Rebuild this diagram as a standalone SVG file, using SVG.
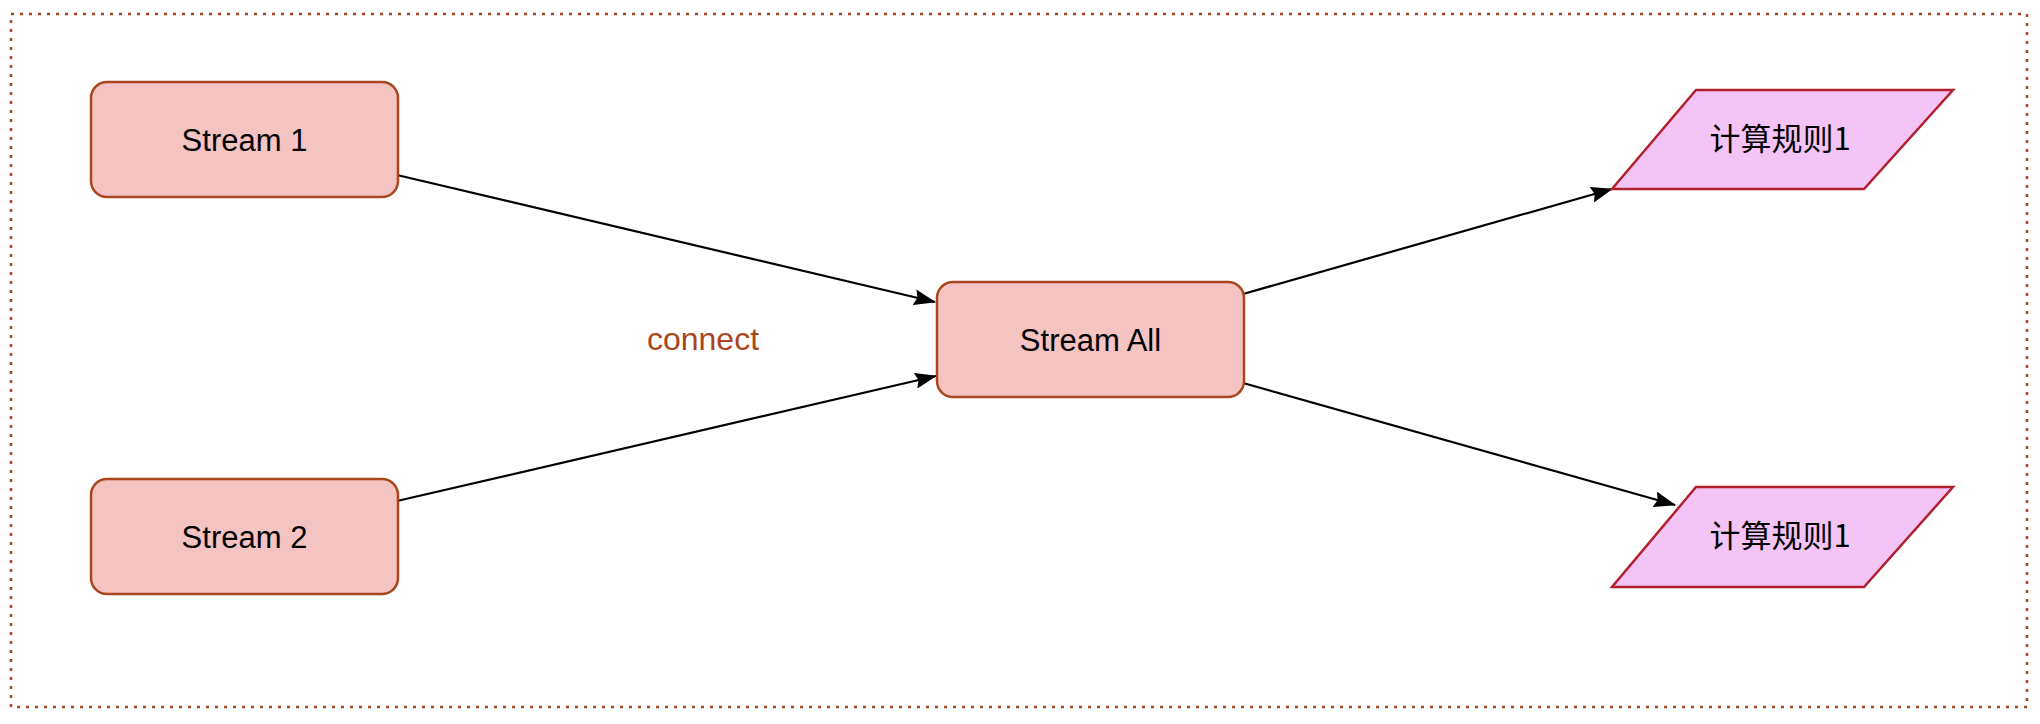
<svg xmlns="http://www.w3.org/2000/svg" width="2040" height="724" viewBox="0 0 2040 724">
<style>
.node{fill:#F5C3C2;stroke:#A9461D;stroke-width:2.5}
.para{fill:#F4C4F7;stroke:#B0202D;stroke-width:2.5}
.lbl{font-family:"Liberation Sans",Arial,sans-serif;font-size:31px;fill:#000;text-anchor:middle}
.cjk{font-family:"Noto Sans CJK SC","Liberation Sans",sans-serif;font-size:31px;fill:#000;text-anchor:middle}
.edge{fill:none;stroke:#000;stroke-width:2.2;marker-end:url(#arr)}
</style>
<defs>
<marker id="arr" viewBox="0 0 22 16" refX="21" refY="8" markerWidth="22" markerHeight="16" markerUnits="userSpaceOnUse" orient="auto">
<path d="M0,0 L22,8 L0,16 L3,8 Z" fill="#000"/>
</marker>
</defs>
<rect x="0" y="0" width="2040" height="724" fill="#fff"/>
<rect id="frame" x="11" y="14" width="2016" height="693" fill="none" stroke="#A9461D" stroke-width="2.5" stroke-dasharray="3 6"/>
<g id="connectors">
<line class="edge" x1="397" y1="175" x2="935" y2="302"/>
<line class="edge" x1="397" y1="501" x2="936" y2="376"/>
<line class="edge" x1="1243" y1="294" x2="1612" y2="189"/>
<line class="edge" x1="1243" y1="383" x2="1675" y2="505"/>
</g>
<g id="stream1">
<rect class="node" x="91" y="82" width="307" height="115" rx="16"/>
<text class="lbl" x="244.5" y="151">Stream 1</text>
</g>
<g id="stream2">
<rect class="node" x="91" y="479" width="307" height="115" rx="16"/>
<text class="lbl" x="244.5" y="548">Stream 2</text>
</g>
<g id="streamAll">
<rect class="node" x="937" y="282" width="307" height="115" rx="16"/>
<text class="lbl" x="1090.5" y="351">Stream All</text>
</g>
<g id="connectLabel">
<text x="703" y="350" font-family="'Liberation Sans',Arial,sans-serif" font-size="32" fill="#A9461D" text-anchor="middle">connect</text>
</g>
<g id="rule1">
<polygon class="para" points="1696,90 1953,90 1864,189 1612,189"/>
<text class="cjk" x="1780" y="150">计算规则1</text>
</g>
<g id="rule2">
<polygon class="para" points="1696,487 1953,487 1864,587 1612,587"/>
<text class="cjk" x="1780" y="547">计算规则1</text>
</g>
</svg>
